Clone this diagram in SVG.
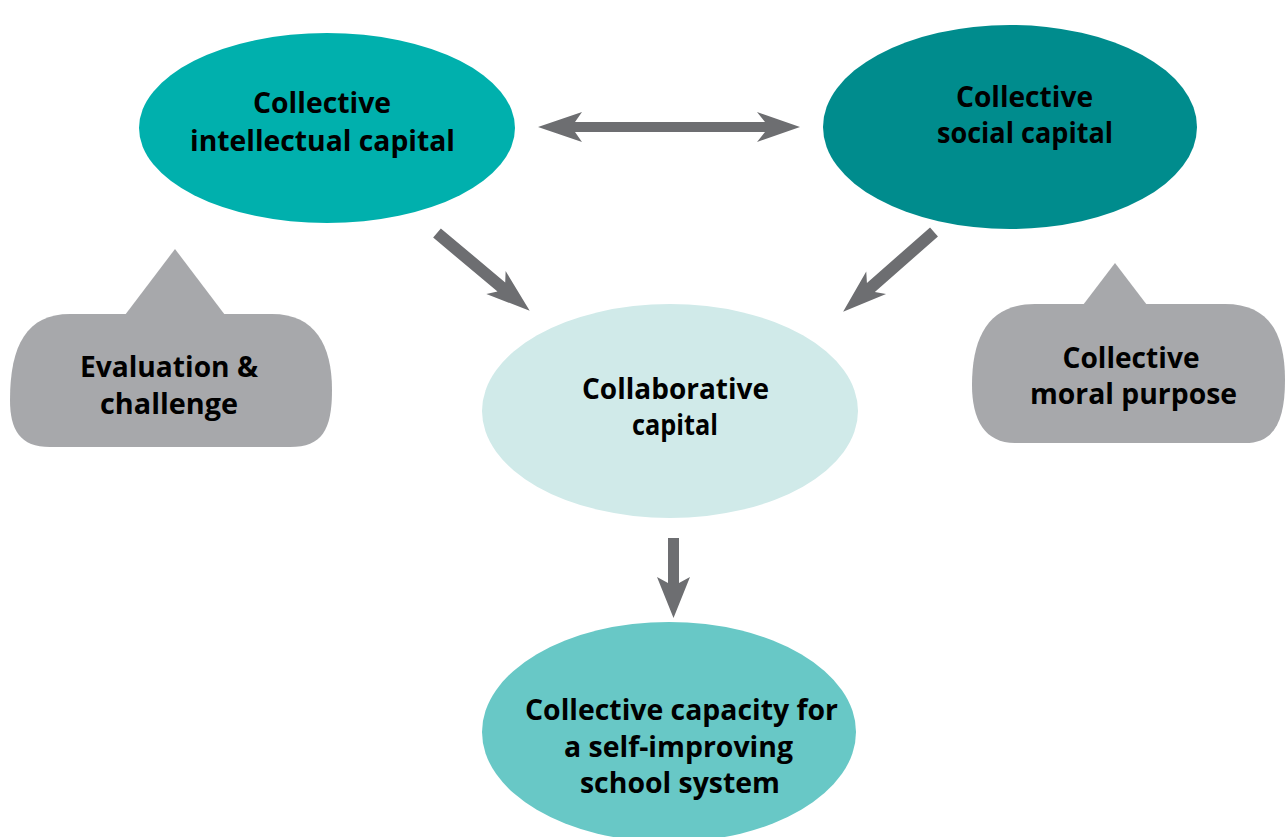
<svg xmlns="http://www.w3.org/2000/svg" width="1285" height="837" viewBox="0 0 1285 837">
<style>
.t{font-family:"Open Sans","Liberation Sans",sans-serif;font-weight:700;font-size:29px;fill:#000;text-anchor:middle}
.arr{fill:#6d6e71}
.call{fill:#a7a8ab}
</style>
<rect width="1285" height="837" fill="#fff"/>
<g id="connectors">
<path class="arr" d="M538,127 L582,112 L575,122 L765,122 L757,112 L800,127 L757,142 L765,132 L575,132 L582,142 Z"/>
<path class="arr" transform="translate(437,233) rotate(40)" d="M0,-6 L84,-6 L77,-15 L121,0 L77,15 L84,6 L0,6 Z"/>
<path class="arr" transform="translate(934,232) rotate(138.7)" d="M0,-6 L84,-6 L77,-15 L121,0 L77,15 L84,6 L0,6 Z"/>
<path class="arr" transform="translate(673.5,538) rotate(90)" d="M0,-5.5 L45,-5.5 L39,-16.5 L80,0 L39,16.5 L45,5.5 L0,5.5 Z"/>
</g>
<g id="intellectual">
<ellipse cx="327" cy="128" rx="188" ry="95" fill="#00b0ad"/>
<text class="t" x="322" y="113" textLength="138" lengthAdjust="spacingAndGlyphs">Collective</text>
<text class="t" x="322.5" y="151" textLength="265" lengthAdjust="spacingAndGlyphs">intellectual capital</text>
</g>
<g id="social">
<ellipse cx="1010" cy="127" rx="187" ry="102" fill="#008c8d"/>
<text class="t" x="1024.5" y="107" textLength="137" lengthAdjust="spacingAndGlyphs">Collective</text>
<text class="t" x="1025" y="143" textLength="176" lengthAdjust="spacingAndGlyphs">social capital</text>
</g>
<g id="collaborative">
<ellipse cx="670" cy="411" rx="188" ry="107" fill="#d0eae9"/>
<text class="t" x="675.5" y="399" textLength="187" lengthAdjust="spacingAndGlyphs">Collaborative</text>
<text class="t" x="675" y="435" textLength="86" lengthAdjust="spacingAndGlyphs">capital</text>
</g>
<g id="capacity">
<ellipse cx="669" cy="732" rx="187" ry="110" fill="#68c8c6"/>
<text class="t" x="681.5" y="720" textLength="313" lengthAdjust="spacingAndGlyphs">Collective capacity for</text>
<text class="t" x="678.5" y="757" textLength="229" lengthAdjust="spacingAndGlyphs">a self-improving</text>
<text class="t" x="680" y="793" textLength="200" lengthAdjust="spacingAndGlyphs">school system</text>
</g>
<g id="evaluation">
<polygon class="call" points="175,249 225,315 125,315"/>
<path class="call" d="M70,314 H272 C315,314 332,345 332,390 C332,430 322,447 290,447 H50 C20,447 10,430 10,400 C10,345 27,314 70,314 Z"/>
<text class="t" x="169" y="377" textLength="178" lengthAdjust="spacingAndGlyphs">Evaluation &amp;</text>
<text class="t" x="169" y="414" textLength="138" lengthAdjust="spacingAndGlyphs">challenge</text>
</g>
<g id="moral">
<polygon class="call" points="1115,263 1147,305 1083,305"/>
<path class="call" d="M1035,304 H1225 C1270,304 1285,335 1285,380 C1285,420 1275,443 1245,443 H1015 C985,443 972,420 972,385 C972,335 990,304 1035,304 Z"/>
<text class="t" x="1131" y="368" textLength="137" lengthAdjust="spacingAndGlyphs">Collective</text>
<text class="t" x="1133.5" y="404" textLength="207" lengthAdjust="spacingAndGlyphs">moral purpose</text>
</g>
</svg>
